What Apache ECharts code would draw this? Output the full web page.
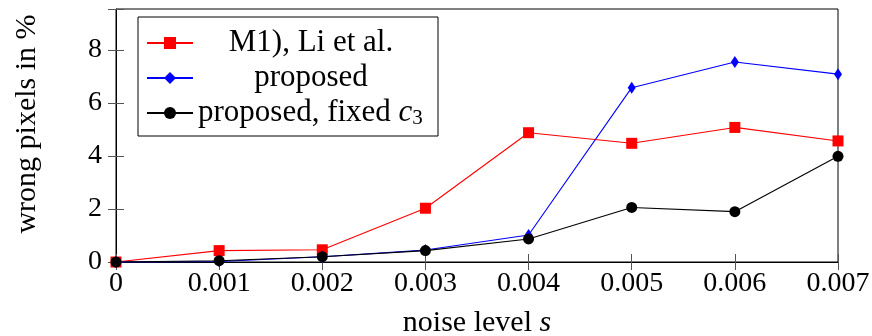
<!DOCTYPE html>
<html><head><meta charset="utf-8">
<script src="https://cdn.jsdelivr.net/npm/echarts@6/dist/echarts.min.js"></script>
<style>html,body{margin:0;padding:0;background:#fff}#c{width:872px;height:336px}</style>
</head><body><div id="c"></div>
<script>
const noiseLevels = [0, 0.001, 0.002, 0.003, 0.004, 0.005, 0.006, 0.007];
const liEtAl = [0, 0.43, 0.46, 2.03, 4.88, 4.48, 5.08, 4.57];
const proposed = [0, 0.02, 0.2, 0.45, 1.02, 6.58, 7.55, 7.09];
const proposedFixedC3 = [0, 0.05, 0.2, 0.43, 0.87, 2.06, 1.9, 3.99];
const yTicks = [0, 2, 4, 6, 8];

const FONT = '"Liberation Serif", "Times New Roman", serif';
const chart = echarts.init(document.getElementById('c'), null, {renderer: 'canvas'});
const pts = arr => noiseLevels.map((x, i) => [x, arr[i]]);
const tickStyle = {show: true, inside: true, length: 8, lineStyle: {color: '#555', width: 1}};

chart.setOption({
  animation: false,
  backgroundColor: '#fff',
  grid: {left: 116, right: 34, top: 9, bottom: 74, outerBoundsMode: 'none', containLabel: false,
    show: true, borderColor: '#000', borderWidth: 1, backgroundColor: 'transparent'},
  xAxis: [{
    type: 'value', min: 0, max: 0.007, interval: 0.001, position: 'bottom',
    axisLine: {show: true, onZero: false, lineStyle: {color: '#000', width: 1}},
    axisTick: tickStyle, splitLine: {show: false},
    axisLabel: {fontFamily: FONT, fontSize: 28, color: '#000', margin: 8,
      formatter: v => v === 0 ? '0' : v.toFixed(3)},
    name: '{n|noise level }{i|s}', nameLocation: 'middle', nameGap: 46,
    nameTextStyle: {fontFamily: FONT, fontSize: 30, color: '#000',
      rich: {n: {fontFamily: FONT, fontSize: 30, color: '#000'}, i: {fontFamily: FONT, fontSize: 30, fontStyle: 'italic', color: '#000'}}}
  }, {
    type: 'value', min: 0, max: 0.007, interval: 0.001, position: 'top',
    axisLine: {show: false}, axisTick: tickStyle, axisLabel: {show: false}, splitLine: {show: false}
  }],
  yAxis: [{
    type: 'value', min: 0, max: 9.55, interval: 2, position: 'left',
    axisLine: {show: true, onZero: false, lineStyle: {color: '#000', width: 1}},
    axisTick: tickStyle, splitLine: {show: false},
    axisLabel: {fontFamily: FONT, fontSize: 28, color: '#000', margin: 14,
      formatter: v => yTicks.includes(v) ? String(v) : ''}
  }, {
    type: 'value', min: 0, max: 9.55, interval: 2, position: 'right',
    axisLine: {show: false}, axisTick: tickStyle, axisLabel: {show: false}, splitLine: {show: false}
  }],
  graphic: [{
    type: 'text', x: 27, y: 124, rotation: Math.PI / 2,
    style: {text: 'wrong pixels in %', font: '30px ' + FONT, fill: '#000', textAlign: 'center', textVerticalAlign: 'middle'}
  }],
  legend: {
    orient: 'vertical', left: 138, top: 17, padding: [9, 14, 6, 8], itemGap: 1,
    itemWidth: 46, itemHeight: 15, borderColor: '#000', borderWidth: 1, backgroundColor: '#fff',
    textStyle: {fontFamily: FONT, fontSize: 31, color: '#000', lineHeight: 34,
      rich: {
        c: {fontFamily: FONT, fontSize: 31, width: 226, align: 'center', lineHeight: 34},
        t: {fontFamily: FONT, fontSize: 31, lineHeight: 34},
        i: {fontFamily: FONT, fontSize: 31, fontStyle: 'italic', lineHeight: 34},
        s: {fontFamily: FONT, fontSize: 21, padding: [11, 0, 0, 0], lineHeight: 34}
      }},
    formatter: name => name === 'proposed, fixed c3' ? '{t|proposed, fixed }{i|c}{s|3}' : '{c|' + name + '}',
    data: ['M1), Li et al.', 'proposed', 'proposed, fixed c3']
  },
  series: [{
    name: 'M1), Li et al.', type: 'line', data: pts(liEtAl), clip: false,
    symbol: 'rect', symbolSize: 11, showSymbol: true,
    lineStyle: {color: '#ff0000', width: 1.1}, itemStyle: {color: '#ff0000'}, z: 2
  }, {
    name: 'proposed', type: 'line', data: pts(proposed), clip: false,
    symbol: 'diamond', symbolSize: [8, 12],
    lineStyle: {color: '#0000ff', width: 1.1}, itemStyle: {color: '#0000ff'}, z: 3
  }, {
    name: 'proposed, fixed c3', type: 'line', data: pts(proposedFixedC3), clip: false,
    symbol: 'circle', symbolSize: 11,
    lineStyle: {color: '#000', width: 1.1}, itemStyle: {color: '#000'}, z: 4
  }]
});
</script></body></html>
